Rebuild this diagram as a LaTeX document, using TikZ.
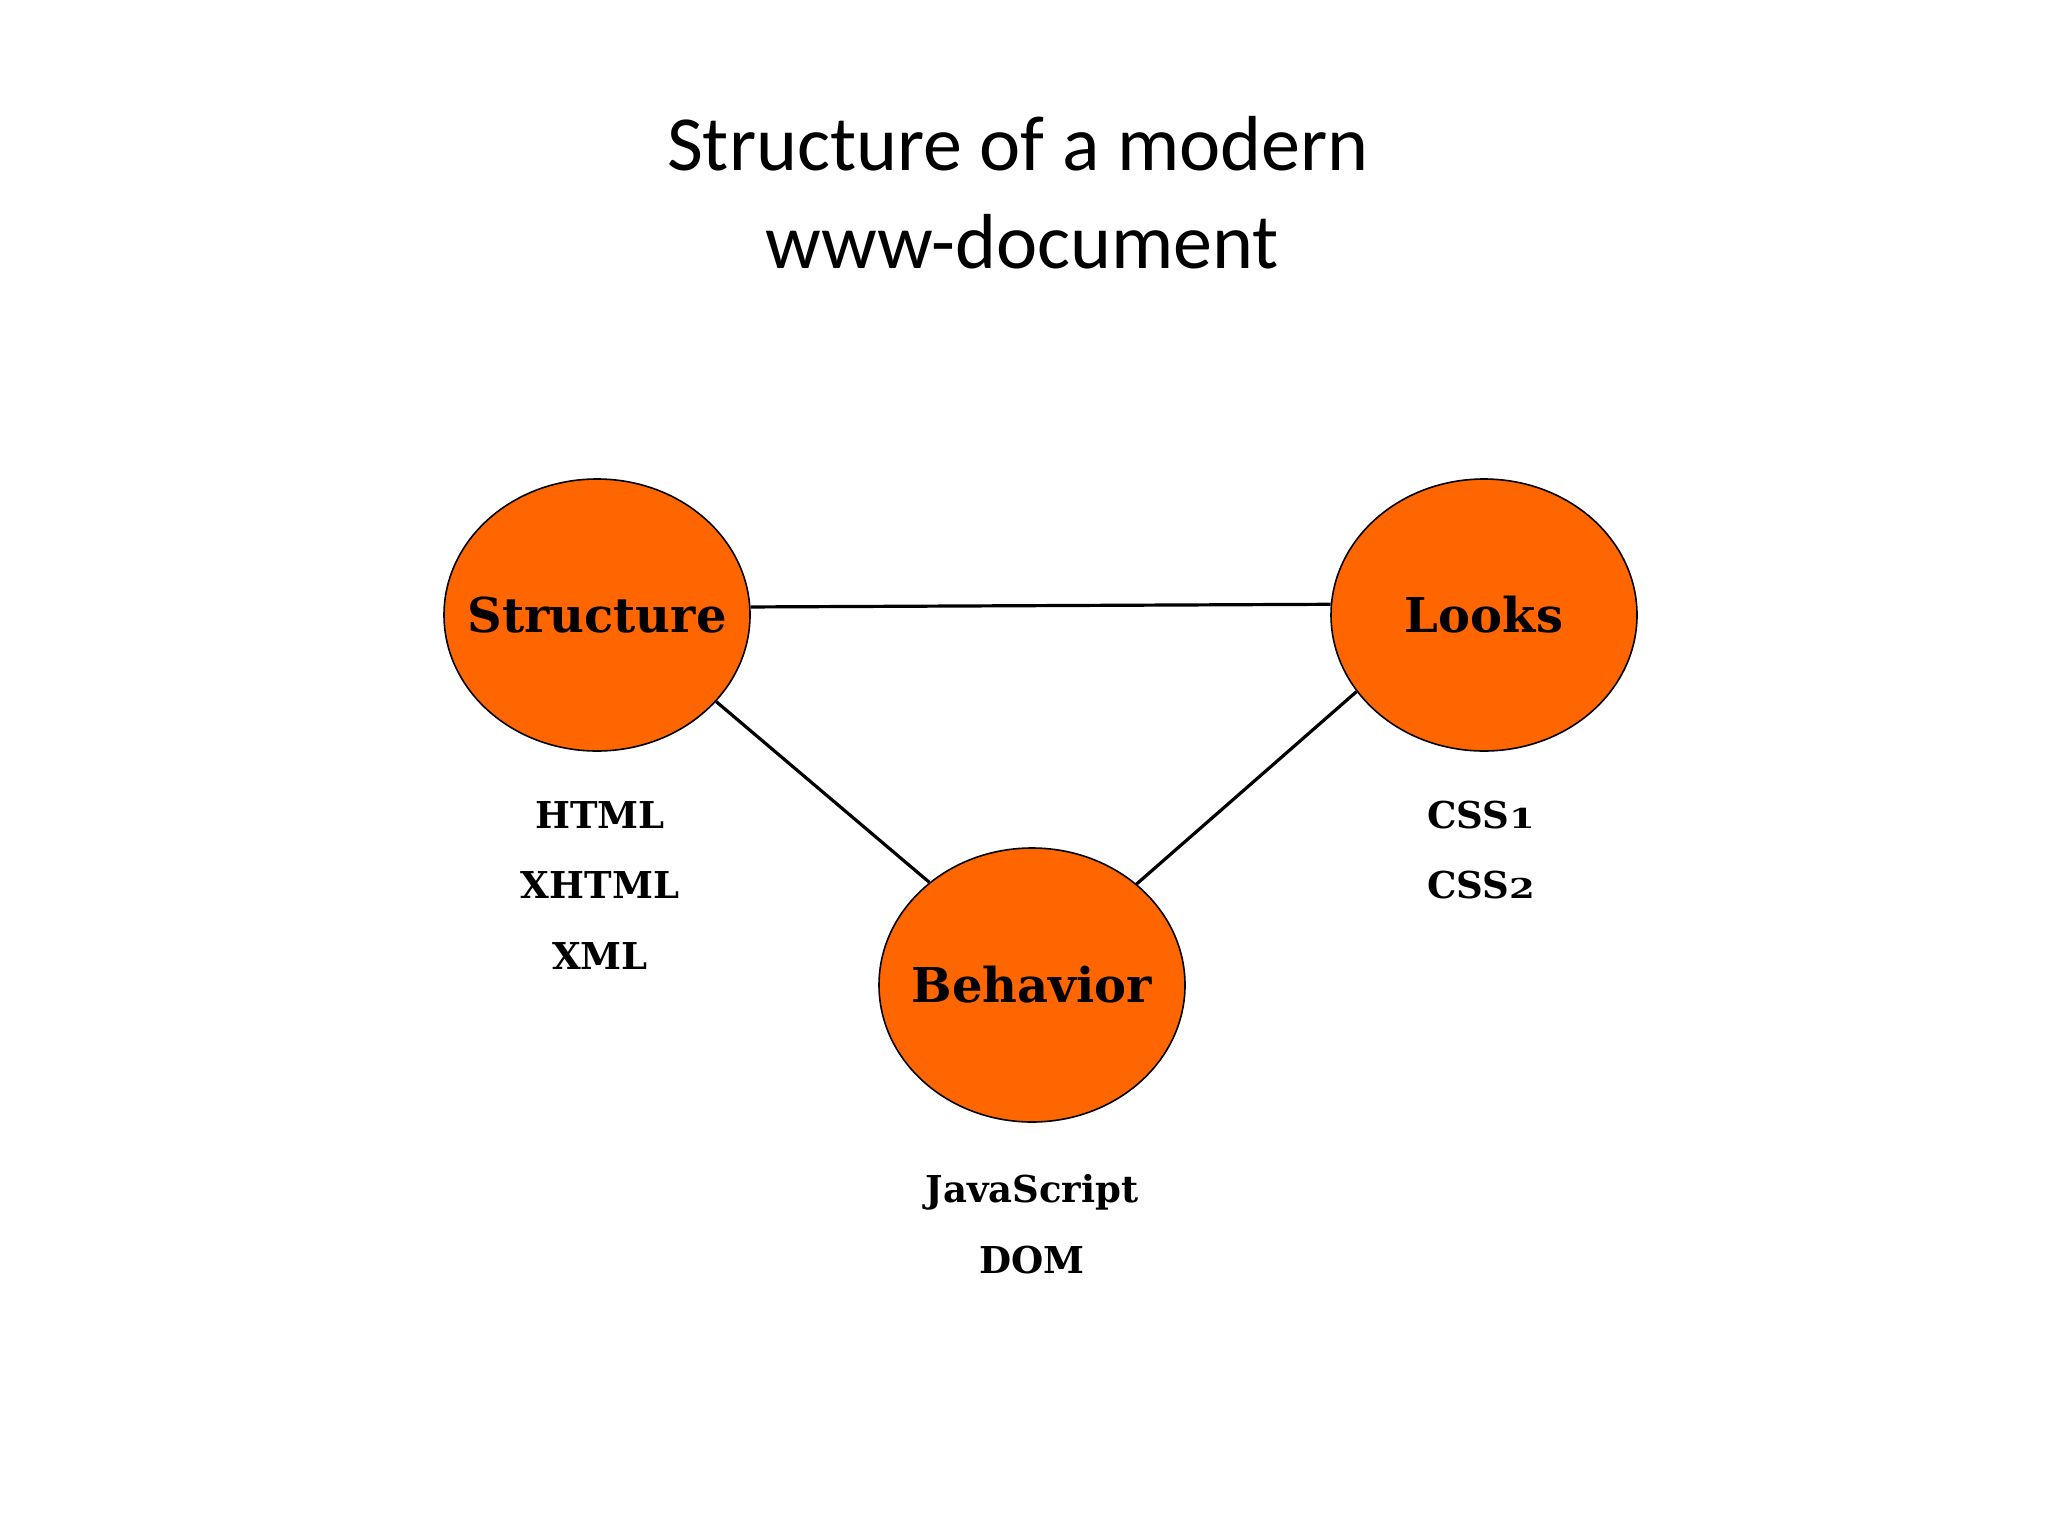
\documentclass[tikz,border=0pt]{standalone}
\usepackage{fontspec}
\setmainfont{Carlito}
\newfontfamily\lblfont{DejaVu Serif}
\definecolor{bluborange}{HTML}{FF6600}
\newcommand{\osn}[1]{\scalebox{1}[0.74]{#1}}
\usetikzlibrary{shapes.geometric}
\begin{document}
\begin{tikzpicture}[x=0.5pt,y=-0.5pt,
  blob/.style={ellipse,draw=black,line width=0.8pt,fill=bluborange,minimum width=153pt,minimum height=136pt,inner sep=0pt,font=\lblfont\bfseries\fontsize{24}{28}\selectfont},
  sub/.style={anchor=base,font=\lblfont\bfseries\fontsize{18.5}{22}\selectfont,inner sep=0pt},
  ttl/.style={anchor=base,font=\fontsize{39}{47}\selectfont,inner sep=0pt},
  link/.style={line width=1.6pt}]
\useasboundingbox (0,0) rectangle (2048,1536);
\node[ttl] (t1) at (1018,170) {Structure of a modern};
\node[ttl] (t2) at (1022,268) {www-document};
\node[blob] (S) at (597,615) {\makebox[0pt]{Structure}};
\node[blob] (L) at (1484,615) {\makebox[0pt]{Looks}};
\node[blob,minimum height=137pt] (B) at (1032,985) {\makebox[0pt]{Behavior}};
\node[sub] (h1) at (600,828) {HTML};
\node[sub] (h2) at (600,898) {XHTML};
\node[sub] (h3) at (600,969) {XML};
\node[sub] (c1) at (1481,828) {CSS\osn{1}};
\node[sub] (c2) at (1481,898) {CSS\osn{2}};
\node[sub] (j1) at (1032,1202) {JavaScript};
\node[sub] (j2) at (1032,1273) {DOM};
\draw[link] (S.3.4) -- (L.176.6);
\draw[link] (S.-36) -- (B.135);
\draw[link] (B.44) -- (L.211.6);
\end{tikzpicture}
\end{document}
